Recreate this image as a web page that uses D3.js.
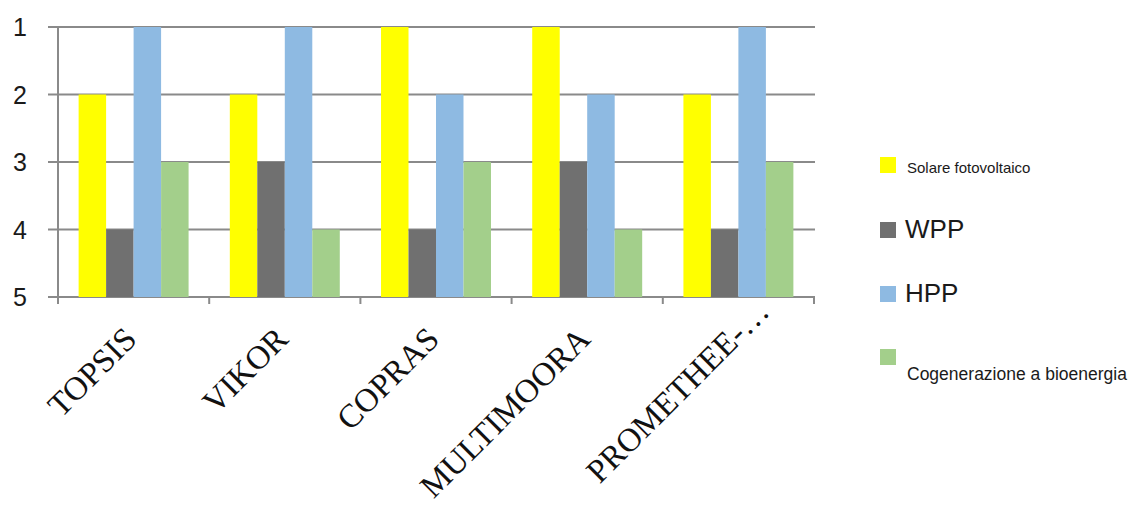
<!DOCTYPE html>
<html>
<head>
<meta charset="utf-8">
<script src="https://cdn.jsdelivr.net/npm/d3@7"></script>
<style>
  html, body { margin: 0; padding: 0; background: #fff; }
  svg { display: block; }
</style>
</head>
<body>
<svg id="chart" width="1139" height="506"></svg>
<script>
// Ranking of renewable options (1 = best) for each MCDM method
const methods = ["TOPSIS", "VIKOR", "COPRAS", "MULTIMOORA", "PROMETHEE-…"];
const seriesNames = ["Solare fotovoltaico", "WPP", "HPP", "Cogenerazione a bioenergia"];
const solare = [2, 2, 1, 1, 2];
const wpp = [4, 3, 4, 3, 4];
const hpp = [1, 1, 2, 2, 1];
const bio = [3, 4, 3, 4, 3];
const rankTicks = [1, 2, 3, 4, 5];
const colors = ["#FFFF00", "#707070", "#8EBAE2", "#A3CF8B"];

const seriesValues = [solare, wpp, hpp, bio];
const rows = methods.map((m, i) => ({
  method: m,
  values: seriesNames.map((s, j) => ({ series: s, idx: j, value: seriesValues[j][i] }))
}));

const svg = d3.select("#chart");
const plotLeft = 58, plotRight = 814, plotTop = 27, plotBottom = 297;

const x = d3.scaleBand().domain(methods).range([plotLeft, plotRight]).paddingInner(0).paddingOuter(0);
const xs = d3.scaleBand().domain(seriesNames).range([0, x.bandwidth()]).paddingInner(0).paddingOuter(0.75);
const y = d3.scaleLinear().domain([1, 5]).range([plotTop, plotBottom]);

const gridColor = "#8a8a8a";

// horizontal gridlines with left tick stubs
svg.append("g").selectAll("line").data(rankTicks).join("line")
  .attr("x1", plotLeft - 10).attr("x2", plotRight + 1)
  .attr("y1", d => y(d)).attr("y2", d => y(d))
  .attr("stroke", gridColor).attr("stroke-width", 2);

// vertical axis line
svg.append("line")
  .attr("x1", plotLeft).attr("x2", plotLeft)
  .attr("y1", y(1)).attr("y2", y(5) + 6)
  .attr("stroke", gridColor).attr("stroke-width", 2);

// category boundary ticks
const boundaries = methods.map(m => x(m)).concat([x(methods[methods.length - 1]) + x.bandwidth()]);
svg.append("g").selectAll("line").data(boundaries).join("line")
  .attr("x1", d => d).attr("x2", d => d)
  .attr("y1", y(5)).attr("y2", y(5) + 7)
  .attr("stroke", gridColor).attr("stroke-width", 2);

// bars rise from the bottom (rank 5) up to the rank value
const groups = svg.append("g").selectAll("g").data(rows).join("g")
  .attr("transform", d => `translate(${x(d.method)},0)`);
groups.selectAll("rect").data(d => d.values).join("rect")
  .attr("x", d => xs(d.series))
  .attr("width", xs.bandwidth())
  .attr("y", d => y(d.value))
  .attr("height", d => y(5) - y(d.value))
  .attr("fill", d => colors[d.idx]);

// y tick labels
svg.append("g").selectAll("text").data(rankTicks).join("text")
  .attr("x", 27).attr("y", d => y(d))
  .attr("dy", "0.36em")
  .attr("text-anchor", "end")
  .attr("font-family", "Liberation Sans, Arial, sans-serif")
  .attr("font-size", 25)
  .attr("fill", "#1a1a1a")
  .text(d => d);

// rotated category labels; a truncated label keeps its ellipsis past the anchor
const catLabels = svg.append("g").selectAll("text").data(methods).join("text")
  .attr("transform", d => `translate(${x(d) + x.bandwidth() / 2 + 5},341) rotate(-45)`)
  .attr("text-anchor", "end")
  .attr("font-family", "Liberation Serif, Times New Roman, serif")
  .attr("font-size", 33)
  .attr("fill", "#111")
  .text(d => d);
catLabels.each(function (d) {
  if (d.endsWith("…")) {
    const w = this.getSubStringLength(d.length - 1, 1);
    d3.select(this).attr("dx", w + 6);
  }
});

// legend
const legendItems = [
  { y: 157, size: 15, ty: 173 },
  { y: 222, size: 26, ty: 238 },
  { y: 286, size: 26, ty: 302 },
  { y: 349, size: 17.5, ty: 380 }
];
const lg = svg.append("g").selectAll("g").data(seriesNames).join("g");
lg.append("rect")
  .attr("x", 880).attr("y", (d, i) => legendItems[i].y)
  .attr("width", 16).attr("height", 16)
  .attr("fill", (d, i) => colors[i]);
lg.append("text")
  .attr("x", (d, i) => legendItems[i].size > 20 ? 905 : 907)
  .attr("y", (d, i) => legendItems[i].ty)
  .attr("font-family", "Liberation Sans, Arial, sans-serif")
  .attr("font-size", (d, i) => legendItems[i].size)
  .attr("fill", "#1a1a1a")
  .text(d => d);
</script>
</body>
</html>
